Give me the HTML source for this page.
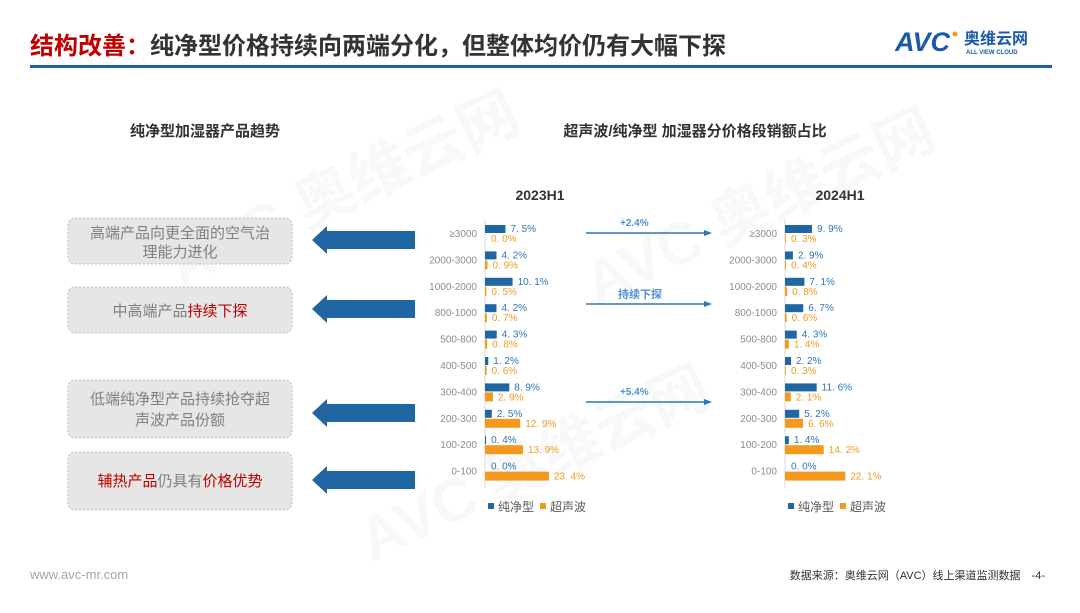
<!DOCTYPE html>
<html><head><meta charset="utf-8">
<style>
body{margin:0;width:1080px;height:608px;background:#fff;overflow:hidden;font-family:"Liberation Sans","Noto Sans CJK SC",sans-serif;}
svg text{font-family:"Liberation Sans","Noto Sans CJK SC",sans-serif;}
</style></head><body>
<svg width="1080" height="608" viewBox="0 0 1080 608">
<g>
<text x="30" y="54" font-size="24" font-weight="bold"><tspan fill="#c00000">结构改善：</tspan><tspan fill="#333">纯净型价格持续向两端分化，但整体均价仍有大幅下探</tspan></text>
<rect x="30" y="65" width="1022" height="3" fill="#1f5fae"/>
<g>
<text x="895" y="51" font-size="27" font-weight="bold" font-style="italic" fill="#1a5aa8">AVC</text>
<circle cx="955" cy="34" r="2.5" fill="#f39a1e"/>
<text x="964" y="44" font-size="16" font-weight="bold" fill="#1a5aa8">奥维云网</text>
<text x="966" y="54" font-size="6" font-weight="bold" fill="#1a5aa8">ALL VIEW CLOUD</text>
</g>
</g>
<g opacity="0.06" fill="#888" font-weight="bold">
<text x="150" y="250" font-size="60" transform="rotate(-25 250 200)">AVC 奥维云网</text>
<text x="560" y="260" font-size="60" transform="rotate(-25 680 200)">AVC 奥维云网</text>
<text x="340" y="520" font-size="60" transform="rotate(-25 450 470)">AVC 奥维云网</text>
</g>
<text x="205" y="136" font-size="15" font-weight="bold" fill="#333" text-anchor="middle">纯净型加湿器产品趋势</text>
<text x="695" y="136" font-size="15" font-weight="bold" fill="#333" text-anchor="middle">超声波/纯净型 加湿器分价格段销额占比</text>

<g font-size="15" fill="#7f7f7f" text-anchor="middle">
<rect x="68" y="218" width="224" height="46" rx="7" fill="#e6e6e6" stroke="#9dc3e6" stroke-dasharray="2,2"/>
<text x="180" y="238">高端产品向更全面的空气治</text><text x="180" y="257">理能力进化</text>
<rect x="68" y="287" width="224" height="46" rx="7" fill="#e6e6e6" stroke="#9dc3e6" stroke-dasharray="2,2"/>
<text x="180" y="316">中高端产品<tspan fill="#c00000">持续下探</tspan></text>
<rect x="68" y="380" width="224" height="58" rx="7" fill="#e6e6e6" stroke="#9dc3e6" stroke-dasharray="2,2"/>
<text x="180" y="404">低端纯净型产品持续抢夺超</text><text x="180" y="425">声波产品份额</text>
<rect x="68" y="452" width="224" height="58" rx="7" fill="#e6e6e6" stroke="#9dc3e6" stroke-dasharray="2,2"/>
<text x="180" y="486"><tspan fill="#c00000">辅热产品</tspan>仍具有<tspan fill="#c00000">价格优势</tspan></text>
</g>
<g fill="#1f66a3">
<polygon points="312,240 327,226 327,231 415,231 415,249 327,249 327,254"/>
<polygon points="312,309 327,295 327,300 415,300 415,318 327,318 327,323"/>
<polygon points="312,413 327,399 327,404 415,404 415,422 327,422 327,427"/>
<polygon points="312,480 327,466 327,471 415,471 415,489 327,489 327,494"/>
</g>
<g>
<line x1="586" y1="233" x2="706" y2="233" stroke="#2e75b6" stroke-width="1.5"/><polygon points="712,233 704,230 704,236" fill="#2e75b6"/>
<text x="620" y="226" font-size="10" fill="#4f8fd6" font-weight="bold">+2.4%</text>
<line x1="586" y1="304" x2="706" y2="304" stroke="#2e75b6" stroke-width="1.5"/><polygon points="712,304 704,301 704,307" fill="#2e75b6"/>
<text x="618" y="298" font-size="11" fill="#4f8fd6" font-weight="bold">持续下探</text>
<line x1="586" y1="402" x2="706" y2="402" stroke="#2e75b6" stroke-width="1.5"/><polygon points="712,402 704,399 704,405" fill="#2e75b6"/>
<text x="620" y="395" font-size="10" fill="#4f8fd6" font-weight="bold">+5.4%</text>
</g>
<g id="charts"></g>
<text x="30" y="579" font-size="13" fill="#a6a6a6">www.avc-mr.com</text>
<text x="1045" y="579" font-size="11" fill="#333" text-anchor="end">数据来源：奥维云网（AVC）线上渠道监测数据　-4-</text>
</svg>
<script>
const categories=["≥3000","2000-3000","1000-2000","800-1000","500-800","400-500","300-400","200-300","100-200","0-100"];
const pure2023=[7.5,4.2,10.1,4.2,4.3,1.2,8.9,2.5,0.4,0.0];
const ultra2023=[0.0,0.9,0.5,0.7,0.8,0.6,2.9,12.9,13.9,23.4];
const pure2024=[9.9,2.9,7.1,6.7,4.3,2.2,11.6,5.2,1.4,0.0];
const ultra2024=[0.3,0.4,0.8,0.6,1.4,0.3,2.1,6.6,14.2,22.1];
const periods=["2023H1","2024H1"];
const seriesNames=["纯净型","超声波"];
const NS="http://www.w3.org/2000/svg";
const root=document.getElementById('charts');
function mk(tag,attrs,parent,txt){const e=document.createElementNS(NS,tag);for(const k in attrs)e.setAttribute(k,attrs[k]);if(txt!=null)e.textContent=txt;parent.appendChild(e);return e;}
function drawChart(x0,title,pure,ultra,idx){
  const g=mk('g',{},root);
  
  
  const xs=v=>v*2.73;
  const yRow=i=>233+i*26.4;
  const t=mk('text',{x:x0+55,y:200,'font-size':14,'font-weight':'bold',fill:'#333','text-anchor':'middle'},g,title);
  
  
  const ax=mk('line',{x1:x0,y1:220,x2:x0,y2:488,stroke:'#d9d9d9','stroke-width':1},g);
  
  
  categories.forEach((c,i)=>{
    const y=yRow(i);
    const l=mk('text',{x:x0-8,y:y+4,'font-size':10,fill:'#8c8c8c','text-anchor':'end'},g,c);
    
    
    const b1=mk('rect',{x:x0,y:y-8,width:Math.max(xs(pure[i]),0),height:8,fill:'#1f66a3'},g);
    
    
    const b2=mk('rect',{x:x0,y:y+1,width:Math.max(xs(ultra[i]),0),height:9,fill:'#f39a1e'},g);
    
    
    const v1=mk('text',{x:x0+Math.max(xs(pure[i]),1)+5,y:y-1,'font-size':10,fill:'#2e75b6','font-family':'Liberation Mono, monospace'},g,pure[i].toFixed(1).replace('.','. ')+'%');
    
    
    const v2=mk('text',{x:x0+Math.max(xs(ultra[i]),1)+5,y:y+9,'font-size':10,fill:'#f39a1e','font-family':'Liberation Mono, monospace'},g,ultra[i].toFixed(1).replace('.','. ')+'%');
    
    
  });
  const lg=mk('g',{},g);
  
  
  mk('rect',{x:x0+3,y:503,width:6,height:6,fill:'#1f66a3'},lg);
  mk('text',{x:x0+13,y:511,'font-size':12,fill:'#595959'},lg,seriesNames[0]);
  mk('rect',{x:x0+55,y:503,width:6,height:6,fill:'#f39a1e'},lg);
  mk('text',{x:x0+65,y:511,'font-size':12,fill:'#595959'},lg,seriesNames[1]);
}
drawChart(485,periods[0],pure2023,ultra2023,0);
drawChart(785,periods[1],pure2024,ultra2024,1);
</script>
</body></html>
